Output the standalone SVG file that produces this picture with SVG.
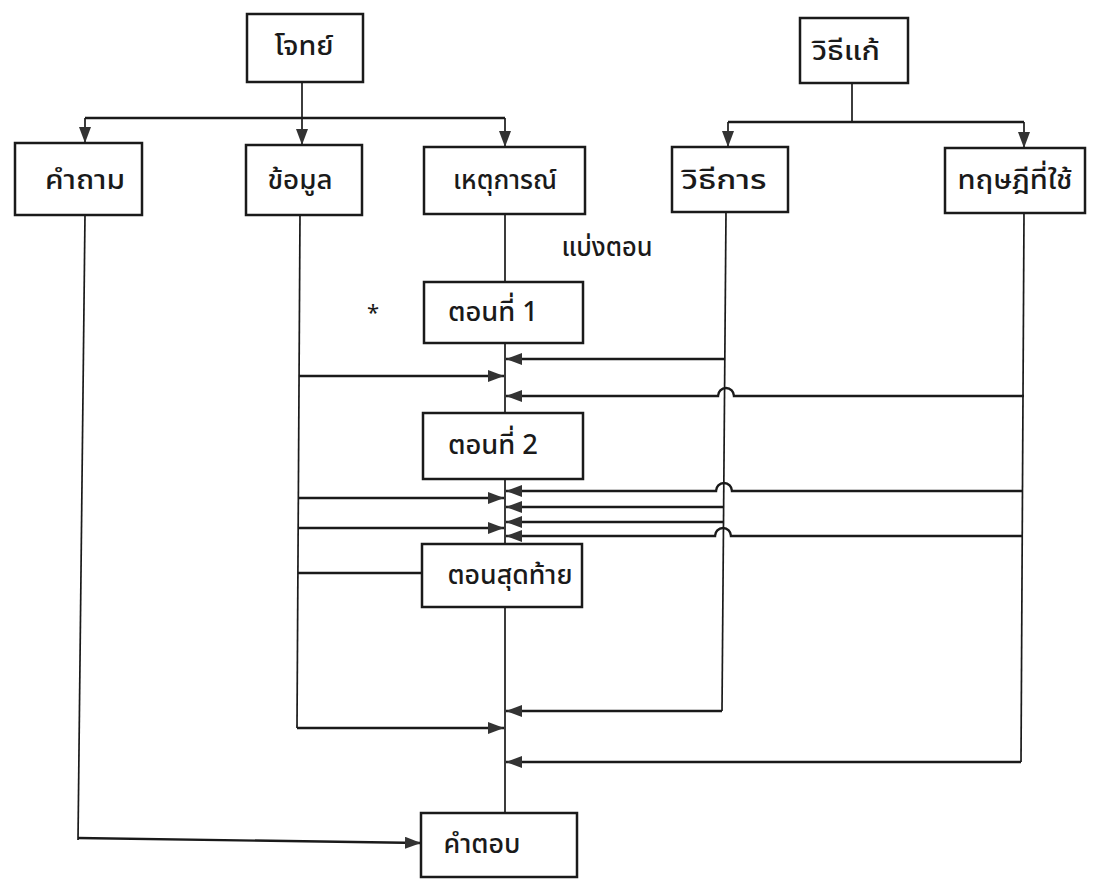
<svg xmlns="http://www.w3.org/2000/svg" width="1096" height="892" viewBox="0 0 1096 892">
<defs>
<marker id="ah" markerUnits="userSpaceOnUse" markerWidth="16" markerHeight="12" refX="16" refY="6" orient="auto">
<path d="M0,0 L16,6 L0,12 z" fill="#333"/>
</marker>
<style>
.box{fill:#fff;stroke:#1a1a1a;stroke-width:2.5}
.t{font-family:"Noto Sans Thai","Noto Sans","DejaVu Sans",sans-serif;font-size:27px;font-weight:500;fill:#1a1a1a;text-anchor:middle;dominant-baseline:central}
.c{fill:none;stroke:#1a1a1a;stroke-width:2.4}
.v{fill:none;stroke:#1a1a1a;stroke-width:1.7}
.a{marker-end:url(#ah)}
</style>
</defs>
<rect width="1096" height="892" fill="#fff"/>
<g id="connectors">
<path class="v" d="M302,82 V118"/>
<path class="c" d="M85,118 H505"/>
<path class="v a" d="M85,118 V143"/>
<path class="v a" d="M302,118 V145"/>
<path class="v a" d="M505,118 V147"/>
<path class="v" d="M852,83 V122"/>
<path class="c" d="M728,122 H1024"/>
<path class="v a" d="M728,122 V147"/>
<path class="v a" d="M1024,122 V148"/>
<path class="v" d="M85,215 L78,840"/>
<path class="v" d="M300,215 L297,728"/>
<path class="v" d="M505,214 V282 M505,343 V413 M505,479 V544 M505,607 V813"/>
<path class="v" d="M726,212 L722,711"/>
<path class="v" d="M1024,213 L1021,762"/>
<path class="c a" d="M725,359 H506"/>
<path class="c a" d="M299,376 H504"/>
<path class="c a" d="M1024,396 H734 A8,8 0 0 0 718,396 H506"/>
<path class="c a" d="M1023,491 H732 A8,8 0 0 0 716,491 H506"/>
<path class="c a" d="M299,498 H504"/>
<path class="c a" d="M724,507 H506"/>
<path class="c a" d="M724,522 H506"/>
<path class="c a" d="M298,528 H504"/>
<path class="c a" d="M1022,536 H731 A8,8 0 0 0 715,536 H506"/>
<path class="c" d="M298,573 H422"/>
<path class="c a" d="M722,711 H506"/>
<path class="c a" d="M297,728 H504"/>
<path class="c a" d="M1021,762 H506"/>
<path class="c a" d="M78,838 L421,843"/>
</g>
<g id="n-problem"><rect class="box" x="247" y="14" width="116" height="68"/><text class="t" x="304" y="46" textLength="59" lengthAdjust="spacingAndGlyphs">โจทย์</text></g>
<g id="n-solution"><rect class="box" x="800" y="18" width="108" height="65"/><text class="t" x="846" y="51" textLength="68" lengthAdjust="spacingAndGlyphs">วิธีแก้</text></g>
<g id="n-question"><rect class="box" x="15" y="143" width="127" height="72"/><text class="t" x="85" y="180" textLength="80" lengthAdjust="spacingAndGlyphs">คำถาม</text></g>
<g id="n-data"><rect class="box" x="246" y="145" width="116" height="70"/><text class="t" x="300" y="180" textLength="65" lengthAdjust="spacingAndGlyphs">ข้อมูล</text></g>
<g id="n-event"><rect class="box" x="424" y="147" width="161" height="67"/><text class="t" x="505" y="180" textLength="104" lengthAdjust="spacingAndGlyphs">เหตุการณ์</text></g>
<g id="n-method"><rect class="box" x="672" y="147" width="116" height="65"/><text class="t" x="724" y="180" textLength="85" lengthAdjust="spacingAndGlyphs">วิธีการ</text></g>
<g id="n-theory"><rect class="box" x="945" y="148" width="140" height="65"/><text class="t" x="1015" y="180" textLength="115" lengthAdjust="spacingAndGlyphs">ทฤษฎีที่ใช้</text></g>
<g id="l-divide"><text class="t" x="607" y="247" textLength="91" lengthAdjust="spacingAndGlyphs">แบ่งตอน</text></g>
<g id="l-star"><text class="t" x="373" y="313" style="font-size:22px;font-weight:400">*</text></g>
<g id="n-part1"><rect class="box" x="424" y="282" width="159" height="61"/><text class="t" x="493" y="312" textLength="90" lengthAdjust="spacingAndGlyphs">ตอนที่ 1</text></g>
<g id="n-part2"><rect class="box" x="423" y="413" width="160" height="66"/><text class="t" x="493" y="445" textLength="90" lengthAdjust="spacingAndGlyphs">ตอนที่ 2</text></g>
<g id="n-last"><rect class="box" x="422" y="544" width="160" height="63"/><text class="t" x="510" y="575" textLength="125" lengthAdjust="spacingAndGlyphs">ตอนสุดท้าย</text></g>
<g id="n-answer"><rect class="box" x="421" y="813" width="156" height="64"/><text class="t" x="482" y="844" textLength="77" lengthAdjust="spacingAndGlyphs">คำตอบ</text></g>
</svg>
